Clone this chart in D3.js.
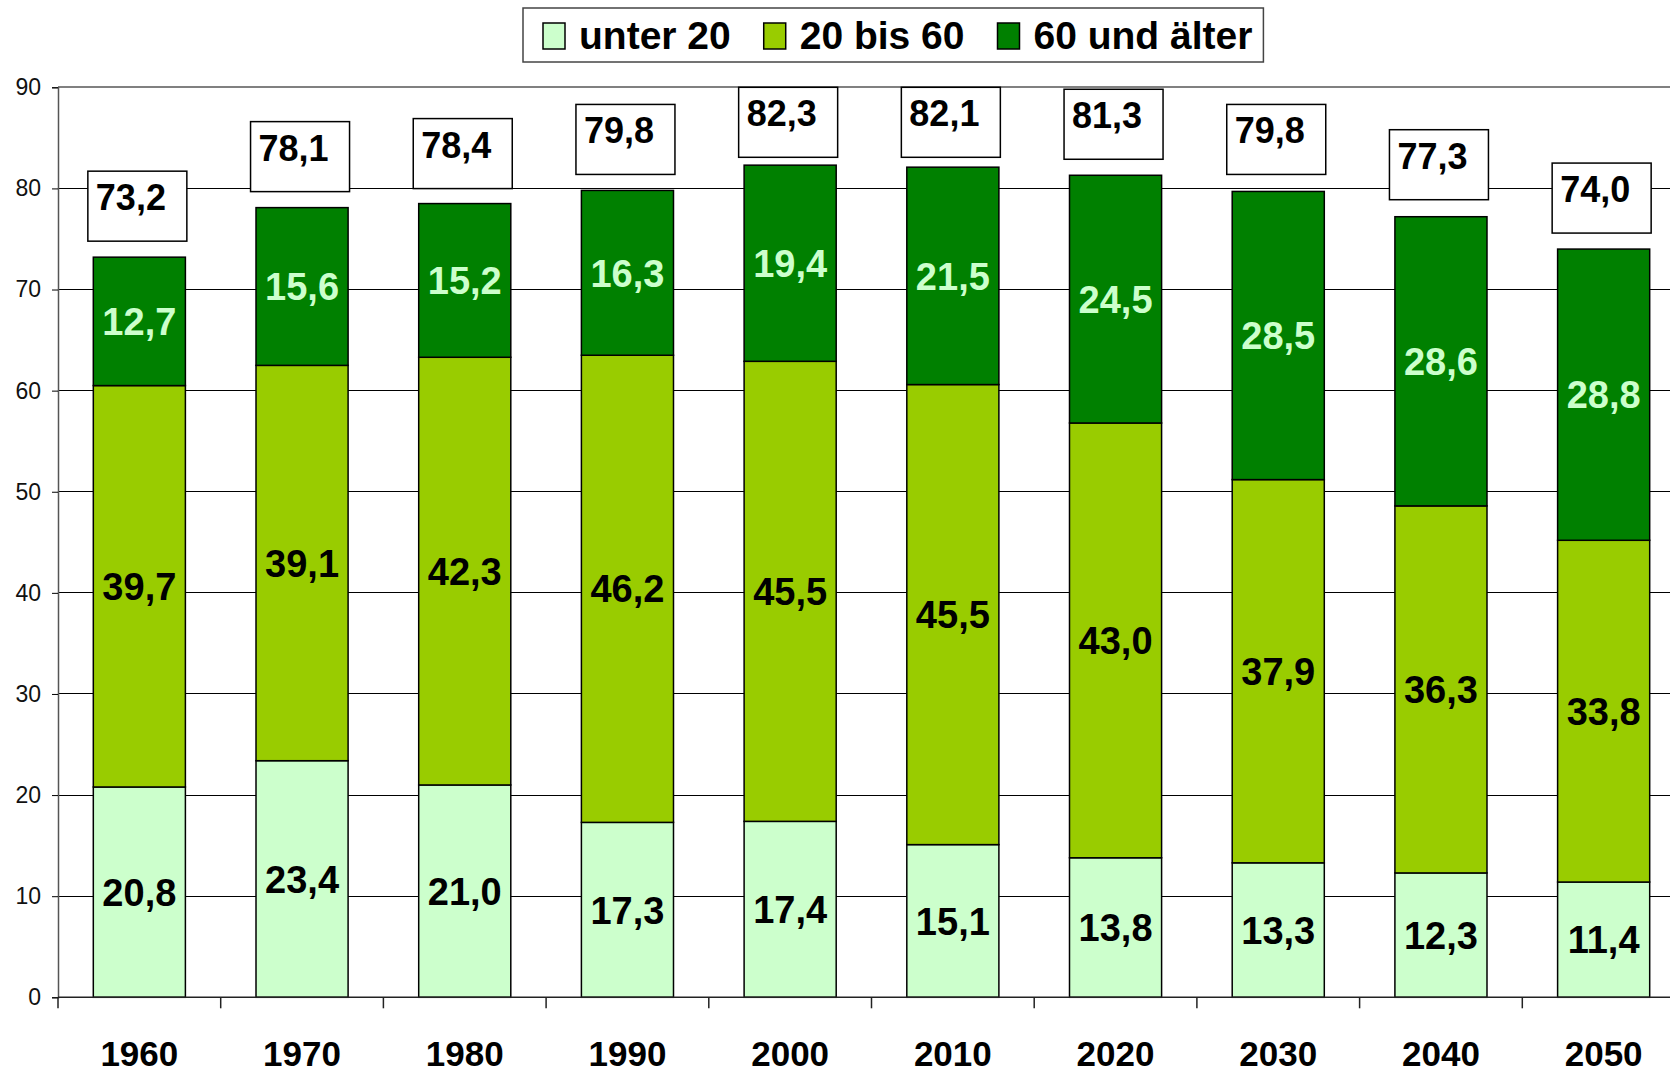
<!DOCTYPE html>
<html>
<head>
<meta charset="utf-8">
<script src="https://cdn.jsdelivr.net/npm/d3@7"></script>
<style>
  html, body { margin: 0; padding: 0; background: #fff; overflow: hidden; }
  text { font-family: "Liberation Sans", Arial, sans-serif; }
</style>
</head>
<body>
<div id="chart"></div>
<script>
var jahre = ["1960", "1970", "1980", "1990", "2000", "2010", "2020", "2030", "2040", "2050"];
var unter20 = [20.8, 23.4, 21.0, 17.3, 17.4, 15.1, 13.8, 13.3, 12.3, 11.4];
var bis60 = [39.7, 39.1, 42.3, 46.2, 45.5, 45.5, 43.0, 37.9, 36.3, 33.8];
var aelter = [12.7, 15.6, 15.2, 16.3, 19.4, 21.5, 24.5, 28.5, 28.6, 28.8];
var gesamt = [73.2, 78.1, 78.4, 79.8, 82.3, 82.1, 81.3, 79.8, 77.3, 74.0];
var serienNamen = ["unter 20", "20 bis 60", "60 und älter"];
var yTicks = [0, 10, 20, 30, 40, 50, 60, 70, 80, 90];

var farben = ["#ccffcc", "#99cc00", "#008000"];
var schrift = ["#000", "#000", "#ccffcc"];

var width = 1670, height = 1070;
var x0 = 58, x1 = 1685;   // plot runs past the right edge, like the original
var yTop = 87.3, yBottom = 997.3;

var komma = d3.formatLocale({decimal: ",", thousands: ".", grouping: [3], currency: ["", ""]}).format(".1f");

var tabelle = jahre.map(function(j, i){
  return {jahr: j, s0: unter20[i], s1: bis60[i], s2: aelter[i], total: gesamt[i]};
});

var svg = d3.select("#chart").append("svg")
  .attr("width", width)
  .attr("height", height);

var x = d3.scaleBand()
  .domain(jahre)
  .range([x0, x1])
  .paddingInner(0.434)
  .paddingOuter(0.217);

var y = d3.scaleLinear()
  .domain([0, 90])
  .range([yBottom, yTop]);

// gitterlinien
svg.append("g").selectAll("line")
  .data(yTicks.slice(1))
  .enter().append("line")
  .attr("x1", x0).attr("x2", x1)
  .attr("y1", function(d){ return y(d); })
  .attr("y2", function(d){ return y(d); })
  .attr("stroke", function(d){ return d === 90 ? "#808080" : "#000"; })
  .attr("stroke-width", function(d){ return d === 90 ? 2 : 1; })
  .attr("shape-rendering", "crispEdges");

// y-achse
var yAxis = svg.append("g")
  .attr("transform", "translate(" + x0 + ",0)")
  .call(d3.axisLeft(y).tickValues(yTicks).tickSize(6).tickPadding(11).tickFormat(d3.format("d")));
yAxis.select(".domain").attr("stroke", "#555").attr("stroke-width", 1.5);
yAxis.selectAll(".tick line").attr("stroke", "#000");
yAxis.selectAll("text")
  .style("font-family", "'Liberation Sans', Arial, sans-serif")
  .style("font-size", "23px")
  .attr("fill", "#111");

// gestapelte balken
var stack = d3.stack().keys(["s0", "s1", "s2"]);
var serien = stack(tabelle);

var gruppen = svg.selectAll(".serie")
  .data(serien)
  .enter().append("g")
  .attr("class", "serie");

gruppen.selectAll("rect")
  .data(function(d){ return d; })
  .enter().append("rect")
  .attr("x", function(d){ return x(d.data.jahr); })
  .attr("width", x.bandwidth())
  .attr("y", function(d){ return y(d[1]); })
  .attr("height", function(d){ return y(d[0]) - y(d[1]); })
  .attr("fill", function(d, i, nodes){ return farben[d3.select(nodes[i].parentNode).datum().index]; })
  .attr("stroke", "#000")
  .attr("stroke-width", 1.5);

gruppen.each(function(s){
  d3.select(this).selectAll("text")
    .data(s)
    .enter().append("text")
    .attr("x", function(d){ return x(d.data.jahr) + x.bandwidth() / 2; })
    .attr("y", function(d){ return y((d[0] + d[1]) / 2); })
    .attr("dy", "0.36em")
    .attr("text-anchor", "middle")
    .style("font-size", "38px")
    .style("font-weight", "bold")
    .attr("fill", schrift[s.index])
    .text(function(d){ return komma(d[1] - d[0]); });
});

// x-achse
svg.append("line")
  .attr("x1", x0).attr("x2", x1)
  .attr("y1", yBottom).attr("y2", yBottom)
  .attr("stroke", "#222").attr("stroke-width", 1.5);

svg.append("g").selectAll("line")
  .data(d3.range(jahre.length + 1))
  .enter().append("line")
  .attr("x1", function(i){ return x0 + i * x.step(); })
  .attr("x2", function(i){ return x0 + i * x.step(); })
  .attr("y1", yBottom).attr("y2", yBottom + 11)
  .attr("stroke", "#222").attr("stroke-width", 1.5);

// jahreszahlen, unten leicht angeschnitten wie im original
svg.append("g").selectAll("text")
  .data(jahre)
  .enter().append("text")
  .attr("x", function(d){ return x(d) + x.bandwidth() / 2; })
  .attr("y", 1066)
  .attr("text-anchor", "middle")
  .style("font-size", "35px")
  .style("font-weight", "bold")
  .text(function(d){ return d; });

// summen-boxen ueber den balken
var boxB = 99, boxH = 70, abstand = 16;
var summen = svg.append("g").selectAll("g")
  .data(tabelle)
  .enter().append("g")
  .attr("transform", function(d){
    var bx = x(d.jahr) + x.bandwidth() / 2 - boxB / 2 - 2;
    var by = Math.max(yTop, y(d.total) - abstand - boxH);
    return "translate(" + bx + "," + by + ")";
  });

summen.append("rect")
  .attr("width", boxB).attr("height", boxH)
  .attr("fill", "#fff").attr("stroke", "#000").attr("stroke-width", 1.5);

summen.append("text")
  .attr("x", 8).attr("y", 39)
  .style("font-size", "36px")
  .style("font-weight", "bold")
  .text(function(d){ return komma(d.total); });

// legende
var legende = svg.append("g");
var legRahmen = legende.append("rect")
  .attr("x", 523).attr("y", 8).attr("height", 54)
  .attr("fill", "#fff").attr("stroke", "#444").attr("stroke-width", 1.5);

var lx = 543;
serienNamen.forEach(function(name, i){
  legende.append("rect")
    .attr("x", lx).attr("y", 23).attr("width", 22).attr("height", 26)
    .attr("fill", farben[i]).attr("stroke", "#000").attr("stroke-width", 1.5);
  var t = legende.append("text")
    .attr("x", lx + 36).attr("y", 49)
    .style("font-size", "39px")
    .style("font-weight", "bold")
    .text(name);
  lx = lx + 36 + t.node().getComputedTextLength() + 33;
});
legRahmen.attr("width", lx - 33 + 11 - 523);
</script>
</body>
</html>
